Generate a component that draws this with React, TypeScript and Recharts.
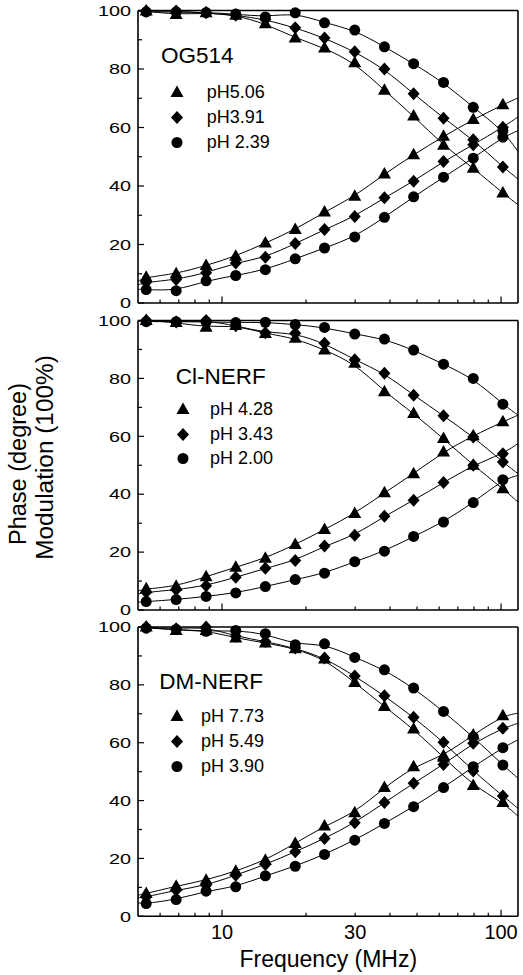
import React from "react";
import { ComposedChart, Line, Scatter, XAxis, YAxis } from "recharts";

const FONT = '"Liberation Sans", Arial, Helvetica, sans-serif';

// measurement frequencies (MHz)
const FREQ = [5.35, 6.85, 8.77, 11.2, 14.3, 18.3, 23.3, 29.9, 38.2, 48.6, 62.2, 79.5, 101.5];
const F_MIN = 5;
const F_MAX = 115;
const X_TICKS = [6, 7, 8, 9, 10, 20, 30, 40, 50, 60, 70, 80, 90, 100];
const X_LABELS = [10, 30, 100];
const X_MAJOR = [10, 100];
const Y_TICKS = [0, 10, 20, 30, 40, 50, 60, 70, 80, 90, 100];

// OG514
const OG_LABELS = ["pH5.06", "pH3.91", "pH 2.39"];
const OG_MOD_TRI = [99.8, 98.6, 99.2, 98.4, 95.5, 90.6, 87.2, 82.1, 72.7, 63.9, 53.9, 46.1, 37.6];
const OG_MOD_DIA = [99.8, 99.8, 99.2, 98.4, 96.9, 94.1, 90.6, 85.9, 80.0, 71.5, 63.2, 55.8, 46.5];
const OG_MOD_CIR = [99.5, 99.5, 99.3, 98.8, 97.8, 99.2, 95.8, 93.3, 87.6, 81.8, 75.4, 66.9, 59.0];
const OG_PH_TRI = [8.8, 10.0, 12.8, 16.0, 20.5, 25.1, 31.1, 36.5, 44.1, 50.7, 57.0, 62.7, 67.8];
const OG_PH_DIA = [7.1, 8.0, 10.3, 13.7, 15.6, 20.3, 25.1, 29.6, 36.0, 41.6, 48.4, 54.1, 60.1];
const OG_PH_CIR = [4.6, 4.2, 7.6, 9.4, 11.4, 15.1, 18.8, 22.6, 29.3, 36.3, 43.0, 49.5, 56.7];
// fitted curves at F_MIN / F_MAX, order: mod tri, dia, cir, phase tri, dia, cir
const OG_FIT_LEFT = [99.8, 99.9, 99.9, 7.5, 6.2, 4.7];
const OG_FIT_RIGHT = [33.6, 42.4, 51.8, 70.1, 63.6, 58.9];

// Cl-NERF
const CL_LABELS = ["pH 4.28", "pH 3.43", "pH 2.00"];
const CL_MOD_TRI = [100, 99.3, 97.7, 98.3, 95.5, 93.9, 89.8, 85.2, 75.4, 67.9, 59.2, 50.0, 41.9];
const CL_MOD_DIA = [100, 99.5, 100, 98.2, 95.8, 95.6, 92.1, 86.4, 81.8, 74.2, 67.1, 59.8, 51.1];
const CL_MOD_CIR = [99.6, 99.6, 99.5, 99.3, 99.4, 98.6, 97.6, 95.3, 93.6, 89.8, 84.9, 80.0, 71.1];
const CL_PH_TRI = [7.3, 8.2, 11.5, 14.8, 17.9, 22.6, 27.8, 33.3, 40.5, 47.1, 54.6, 60.2, 65.0];
const CL_PH_DIA = [6.1, 7.0, 8.4, 11.3, 14.4, 17.1, 22.1, 25.8, 32.4, 37.9, 44.0, 50.0, 54.0];
const CL_PH_CIR = [2.9, 3.6, 4.7, 5.9, 8.1, 10.5, 12.7, 16.7, 20.3, 25.4, 30.4, 37.1, 45.0];
const CL_FIT_LEFT = [99.8, 99.9, 99.9, 6.6, 5.5, 2.7];
const CL_FIT_RIGHT = [37.3, 47.1, 67.3, 67.3, 57.5, 46.5];

// DM-NERF
const DM_LABELS = ["pH 7.73", "pH 5.49", "pH 3.90"];
const DM_MOD_TRI = [100, 98.8, 98.8, 96.2, 94.5, 92.5, 88.9, 80.8, 72.5, 64.7, 55.0, 45.2, 39.3];
const DM_MOD_DIA = [100, 99.4, 100, 96.8, 95.0, 92.7, 89.3, 83.1, 76.2, 68.8, 60.2, 50.2, 41.6];
const DM_MOD_CIR = [99.6, 99.2, 98.5, 98.8, 97.7, 93.9, 94.2, 89.5, 85.2, 78.9, 70.8, 62.0, 52.3];
const DM_PH_TRI = [7.9, 10.4, 12.5, 15.6, 19.4, 25.2, 31.2, 35.8, 44.5, 51.7, 55.5, 62.7, 69.3];
const DM_PH_DIA = [6.7, 9.0, 10.7, 14.2, 17.9, 22.3, 26.9, 32.3, 39.3, 46.0, 52.5, 59.8, 65.0];
const DM_PH_CIR = [4.4, 5.8, 8.7, 10.2, 14.0, 17.3, 21.4, 26.3, 32.1, 37.9, 44.5, 51.7, 58.3];
const DM_FIT_LEFT = [99.8, 99.9, 99.9, 7.3, 6.4, 4.6];
const DM_FIT_RIGHT = [34.6, 37.3, 47.7, 70.2, 66.7, 61.0];

type Kind = "tri" | "dia" | "cir";
const KINDS: Kind[] = ["tri", "dia", "cir", "tri", "dia", "cir"];
const LEGEND_KINDS: Kind[] = ["tri", "dia", "cir"];

const PANELS = [
  { title: "OG514", labels: OG_LABELS, series: [OG_MOD_TRI, OG_MOD_DIA, OG_MOD_CIR, OG_PH_TRI, OG_PH_DIA, OG_PH_CIR], left: OG_FIT_LEFT, right: OG_FIT_RIGHT },
  { title: "Cl-NERF", labels: CL_LABELS, series: [CL_MOD_TRI, CL_MOD_DIA, CL_MOD_CIR, CL_PH_TRI, CL_PH_DIA, CL_PH_CIR], left: CL_FIT_LEFT, right: CL_FIT_RIGHT },
  { title: "DM-NERF", labels: DM_LABELS, series: [DM_MOD_TRI, DM_MOD_DIA, DM_MOD_CIR, DM_PH_TRI, DM_PH_DIA, DM_PH_CIR], left: DM_FIT_LEFT, right: DM_FIT_RIGHT },
];

// page layout of each panel (mt/mb include the 1px thin axes)
const LAYOUT = [
  { top: 0, mt: 10.5, plotH: 292.5, mb: 10, titleX: 161, titleY: 56, markerX: 176.7, textX: 206.7, rowY: 92.7, xLabels: false },
  { top: 310, mt: 10.5, plotH: 289.5, mb: 10, titleX: 175.7, titleY: 376.7, markerX: 182.7, textX: 210, rowY: 409.3, xLabels: false },
  { top: 617, mt: 10, plotH: 289.3, mb: 45, titleX: 159.3, titleY: 681.7, markerX: 176.7, textX: 201, rowY: 716.7, xLabels: true },
];

function Marker({ kind, cx, cy }: { kind: Kind; cx?: number; cy?: number }) {
  if (cx == null || cy == null) return null;
  if (kind === "tri") return <path d={`M${cx},${cy - 7}L${cx + 6.5},${cy + 4.5}L${cx - 6.5},${cy + 4.5}Z`} fill="#000" />;
  if (kind === "dia") return <path d={`M${cx},${cy - 6.5}L${cx + 6},${cy}L${cx},${cy + 6.5}L${cx - 6},${cy}Z`} fill="#000" />;
  return <circle cx={cx} cy={cy} r={5.5} fill="#000" />;
}

// y labels in the original are wide and flat, so stretch them horizontally
const LeftTick = (props: any) => {
  const { x, y, payload } = props;
  const major = payload.value % 20 === 0;
  return (
    <g>
      <line x1={x} x2={x + (major ? 6 : 4)} y1={y} y2={y} stroke="#000" strokeWidth={1.2} />
      {major && (
        <text
          transform={`translate(${x - 7},${y}) scale(1.28,1)`}
          x={0}
          y={0}
          textAnchor="end"
          dominantBaseline="central"
          fontSize={15.5}
          fontFamily={FONT}
          fill="#000"
        >
          {payload.value}
        </text>
      )}
    </g>
  );
};

const RightTick = (props: any) => {
  const { x, y, payload } = props;
  const major = payload.value % 20 === 0;
  return <line x1={x} x2={x - (major ? 4 : 3)} y1={y} y2={y} stroke="#000" strokeWidth={1} />;
};

const makeBottomTick = (showLabels: boolean) => (props: any) => {
  const { x, y, payload } = props;
  const v = payload.value;
  const len = X_MAJOR.includes(v) ? 6.5 : 3.5;
  return (
    <g>
      <line x1={x} x2={x} y1={y} y2={y - len} stroke="#000" strokeWidth={1.2} />
      {showLabels && X_LABELS.includes(v) && (
        <text x={x} y={y + 23} textAnchor="middle" fontSize={20} fontFamily={FONT} fill="#000">
          {v}
        </text>
      )}
    </g>
  );
};

function Panel({ index }: { index: number }) {
  const p = PANELS[index];
  const l = LAYOUT[index];
  const height = l.mt + l.plotH + l.mb;
  const fits = p.series.map((vals, k) => [
    { f: F_MIN, v: p.left[k] },
    ...FREQ.map((f, i) => ({ f, v: vals[i] })),
    { f: F_MAX, v: p.right[k] },
  ]);
  const points = p.series.map((vals) => FREQ.map((f, i) => ({ f, v: vals[i] })));

  return (
    <div style={{ position: "absolute", left: 0, top: l.top, width: 523, height }}>
      <ComposedChart width={523} height={height} margin={{ top: l.mt - 1, right: 4, bottom: l.mb - 1, left: 137 }}>
        <XAxis
          xAxisId="b"
          dataKey="f"
          type="number"
          scale="log"
          domain={[F_MIN, F_MAX]}
          allowDataOverflow
          ticks={X_TICKS}
          interval={0}
          height={1}
          tickSize={0}
          tickMargin={0}
          tickLine={false}
          tick={makeBottomTick(l.xLabels)}
          axisLine={{ stroke: "#000", strokeWidth: 1.6 }}
        />
        <XAxis
          xAxisId="t"
          orientation="top"
          dataKey="f"
          type="number"
          scale="log"
          domain={[F_MIN, F_MAX]}
          allowDataOverflow
          height={1}
          tick={false}
          tickLine={false}
          axisLine={{ stroke: "#000", strokeWidth: 1.6 }}
        />
        <YAxis
          yAxisId="l"
          type="number"
          domain={[0, 100]}
          ticks={Y_TICKS}
          interval={0}
          width={1}
          tickSize={0}
          tickMargin={0}
          tickLine={false}
          tick={LeftTick}
          axisLine={{ stroke: "#000", strokeWidth: 1.6 }}
        />
        <YAxis
          yAxisId="r"
          orientation="right"
          type="number"
          domain={[0, 100]}
          ticks={Y_TICKS}
          interval={0}
          width={1}
          tickSize={0}
          tickMargin={0}
          tickLine={false}
          tick={RightTick}
          axisLine={{ stroke: "#000", strokeWidth: 1.6 }}
        />
        {fits.map((d, k) => (
          <Line
            key={`fit-${k}`}
            xAxisId="b"
            yAxisId="l"
            data={d}
            dataKey="v"
            type="basis"
            stroke="#000"
            strokeWidth={1}
            dot={false}
            activeDot={false}
            isAnimationActive={false}
          />
        ))}
        {points.map((d, k) => (
          <Scatter
            key={`pts-${k}`}
            xAxisId="b"
            yAxisId="l"
            data={d}
            dataKey="v"
            isAnimationActive={false}
            shape={(sp: any) => <Marker kind={KINDS[k]} cx={sp.cx} cy={sp.cy} />}
          />
        ))}
      </ComposedChart>
    </div>
  );
}

function PanelLegend({ index }: { index: number }) {
  const p = PANELS[index];
  const l = LAYOUT[index];
  return (
    <>
      <div style={{ position: "absolute", left: l.titleX, top: l.titleY - 13, fontSize: 22.5, lineHeight: "26px", fontFamily: FONT }}>
        {p.title}
      </div>
      {p.labels.map((label, i) => (
        <div
          key={label}
          style={{ position: "absolute", left: l.markerX - 10, top: l.rowY + i * 24.8 - 12.5, height: 25, display: "flex", alignItems: "center", fontSize: 18, fontFamily: FONT }}
        >
          <svg width={l.textX - l.markerX + 10} height={25}>
            <Marker kind={LEGEND_KINDS[i]} cx={10} cy={12.5} />
          </svg>
          <span style={{ lineHeight: "25px" }}>{label}</span>
        </div>
      ))}
    </>
  );
}

export default function App() {
  return (
    <div style={{ position: "absolute", left: 0, top: 0, width: 523, height: 975, background: "#fff", fontFamily: FONT, color: "#000" }}>
      {PANELS.map((_, i) => (
        <Panel key={i} index={i} />
      ))}
      {PANELS.map((_, i) => (
        <PanelLegend key={`lg-${i}`} index={i} />
      ))}
      <svg width={523} height={975} style={{ position: "absolute", left: 0, top: 0, pointerEvents: "none" }}>
        <text transform="translate(25.5,464) rotate(-90)" textAnchor="middle" fontSize={23.5} fontFamily={FONT} fill="#000">
          Phase (degree)
        </text>
        <text transform="translate(53,457.5) rotate(-90)" textAnchor="middle" fontSize={24.4} fontFamily={FONT} fill="#000">
          Modulation (100%)
        </text>
        <text x={328.3} y={967} textAnchor="middle" fontSize={23} fontFamily={FONT} fill="#000">
          Frequency (MHz)
        </text>
      </svg>
    </div>
  );
}
